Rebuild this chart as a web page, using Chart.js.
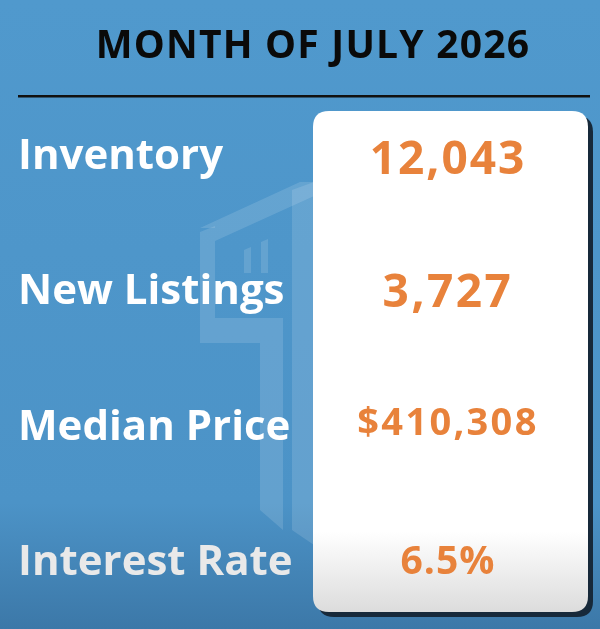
<!DOCTYPE html>
<html>
<head>
<meta charset="utf-8">
<script src="https://cdn.jsdelivr.net/npm/chart.js@4.4.1/dist/chart.umd.min.js"></script>
<style>
html,body{margin:0;padding:0;background:#4f98cc;}
#wrap{width:600px;height:629px;position:relative;}
</style>
</head>
<body>
<div id="wrap"><canvas id="c"></canvas></div>
<script>
const title = 'MONTH OF JULY 2026';
const categories = ['Inventory', 'New Listings', 'Median Price', 'Interest Rate'];
const values = [12043, 3727, 410308, 6.5];
const prefixes = ['', '', '$', ''];
const suffixes = ['', '', '', '%'];
const decimals = [0, 0, 0, 1];

function fmt(i) {
  return prefixes[i] + values[i].toLocaleString('en-US', {minimumFractionDigits: decimals[i], maximumFractionDigits: decimals[i]}) + suffixes[i];
}

const FONT = '"Open Sans", "Noto Sans", sans-serif';
const VALUE_STYLE = [
  {size: 46, spacing: 2, dy: 4},
  {size: 46, spacing: 2.5, dy: 2},
  {size: 38, spacing: 2.3, dy: -3},
  {size: 39, spacing: 1, dy: 0}
];

function roundRect(ctx, x, y, w, h, r) {
  ctx.beginPath();
  ctx.moveTo(x + r, y);
  ctx.lineTo(x + w - r, y);
  ctx.quadraticCurveTo(x + w, y, x + w, y + r);
  ctx.lineTo(x + w, y + h - r);
  ctx.quadraticCurveTo(x + w, y + h, x + w - r, y + h);
  ctx.lineTo(x + r, y + h);
  ctx.quadraticCurveTo(x, y + h, x, y + h - r);
  ctx.lineTo(x, y + r);
  ctx.quadraticCurveTo(x, y, x + r, y);
  ctx.closePath();
}

function poly(ctx, pts) {
  ctx.beginPath();
  ctx.moveTo(pts[0][0], pts[0][1]);
  for (let k = 1; k < pts.length; k++) ctx.lineTo(pts[k][0], pts[k][1]);
  ctx.closePath();
  ctx.fill();
}

const backdrop = {
  id: 'backdrop',
  beforeDraw(chart) {
    const ctx = chart.ctx;
    const W = chart.width, H = chart.height;
    ctx.save();
    const g = ctx.createLinearGradient(0, 0, 0, H);
    g.addColorStop(0, '#5099cd');
    g.addColorStop(0.80, '#4c93c7');
    g.addColorStop(1, '#3c78a8');
    ctx.fillStyle = g;
    ctx.fillRect(0, 0, W, H);

    // faint building outline
    ctx.fillStyle = 'rgba(255,255,255,0.13)';
    poly(ctx, [[200,228],[300,182],[314,182],[314,196],[215,241],[215,228]]);
    poly(ctx, [[200,232],[215,226],[215,318],[200,318]]);
    poly(ctx, [[200,318],[283,318],[283,343],[200,343]]);
    poly(ctx, [[260,343],[283,343],[283,530],[260,510]]);
    poly(ctx, [[292,190],[314,182],[314,545],[292,530]]);
    poly(ctx, [[244,250],[251,247],[251,273],[244,273]]);
    poly(ctx, [[261,242],[268,239],[268,273],[261,273]]);

    // title
    ctx.fillStyle = '#0a0a0a';
    ctx.font = 'bold 39px ' + FONT;
    ctx.letterSpacing = '1.2px';
    ctx.textAlign = 'center';
    ctx.textBaseline = 'middle';
    ctx.fillText(title, 313, 47);
    ctx.letterSpacing = '0px';

    // rule
    ctx.fillStyle = '#111';
    ctx.fillRect(18, 95, 572, 2.5);

    // panel shadow
    ctx.fillStyle = '#17293a';
    roundRect(ctx, 318, 116, 275, 501, 16);
    ctx.fill();
    // panel
    const pg = ctx.createLinearGradient(0, 111, 0, 612);
    pg.addColorStop(0, '#ffffff');
    pg.addColorStop(0.84, '#ffffff');
    pg.addColorStop(1, '#dcdcdc');
    ctx.fillStyle = pg;
    roundRect(ctx, 313, 111, 275, 501, 16);
    ctx.fill();
    ctx.restore();
  },
  afterDatasetsDraw(chart) {
    const ctx = chart.ctx;
    const meta = chart.getDatasetMeta(0);
    ctx.save();
    ctx.fillStyle = '#e8823b';
    ctx.textAlign = 'center';
    ctx.textBaseline = 'middle';
    meta.data.forEach((el, i) => {
      const st = VALUE_STYLE[i];
      ctx.font = 'bold ' + st.size + 'px ' + FONT;
      ctx.letterSpacing = st.spacing + 'px';
      ctx.fillText(fmt(i), 448, el.y + st.dy);
    });
    ctx.letterSpacing = '0px';
    ctx.restore();
  }
};

new Chart(document.getElementById('c'), {
  type: 'bar',
  data: {
    labels: categories,
    datasets: [{
      data: values,
      backgroundColor: 'rgba(0,0,0,0)',
      borderWidth: 0
    }]
  },
  options: {
    indexAxis: 'y',
    responsive: true,
    maintainAspectRatio: false,
    animation: false,
    layout: {padding: {top: 157, bottom: 66, left: 18, right: 10}},
    plugins: {legend: {display: false}, tooltip: {enabled: false}},
    scales: {
      x: {display: false, min: 0},
      y: {
        type: 'category',
        offset: false,
        grid: {display: false},
        border: {display: false},
        ticks: {
          crossAlign: 'far',
          padding: 0,
          color: (c) => c.index === 3 ? '#e9e9e9' : '#ffffff',
          font: {family: FONT, size: 42, weight: 'bold'}
        }
      }
    }
  },
  plugins: [backdrop]
});
</script>
</body>
</html>
